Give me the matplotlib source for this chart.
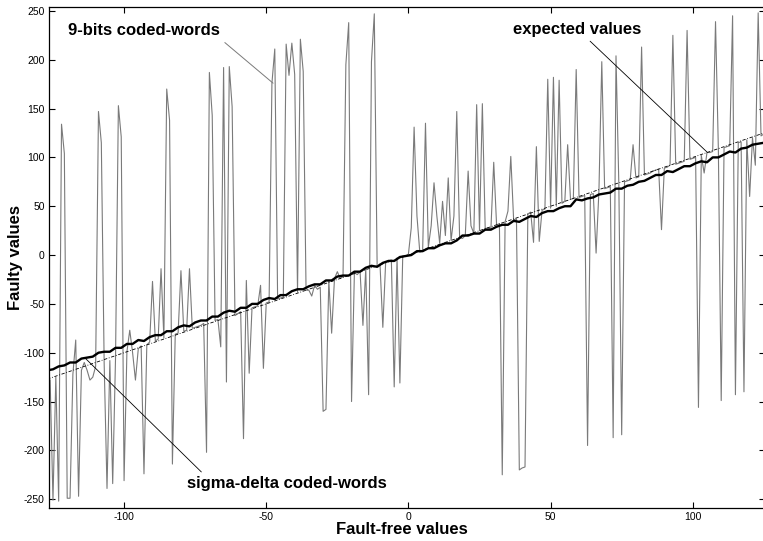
import numpy as np
import matplotlib
matplotlib.use("Agg")
import matplotlib.pyplot as plt

plt.rcParams['font.family'] = ['Liberation Sans', 'DejaVu Sans']
plt.rcParams['axes.unicode_minus'] = False

# fault-free input codes
fault_free = np.arange(-127, 126)

# faulty outputs read with plain 9-bit coded words
nine_bits = [
    -125, -128, -251, -125, -252, 134, 104, -249, -249, -122,
    -87, -247, -118, -110, -118, -128, -125, -114, 147, 115,
    -111, -239, -108, -234, -105, 153, 121, -231, -99, -77,
    -100, -128, -96, -93, -224, -92, -89, -27, -88, -86,
    -14, -85, 170, 138, -214, -81, -80, -16, -78, -77,
    -14, -75, -74, -73, -72, -70, -202, 187, 143, -67,
    -66, -94, 192, -130, 193, 152, -62, -60, -58, -188,
    -26, -121, -54, -53, -52, -31, -116, -49, -48, 176,
    211, -45, -44, -43, 216, 184, 217, 185, -38, 221,
    188, -36, -36, -42, -31, -35, -33, -160, -158, -26,
    -80, -24, -17, -24, -22, 195, 238, -150, -18, -20,
    -17, -72, -14, -143, 198, 247, -12, -9, -74, -7,
    -6, -5, -135, -3, -131, -1, -1, 1, 28, 131,
    40, 3, 4, 135, 8, 30, 74, 40, 12, 55,
    20, 79, 15, 40, 147, 18, 17, 20, 86, 30,
    22, 154, 25, 155, 27, 28, 26, 95, 31, 32,
    -225, 34, 45, 101, 36, 37, -220, -218, -217, 42,
    44, 13, 111, 14, 46, 47, 180, 48, 182, 50,
    179, 53, 55, 113, 57, 58, 190, 59, 60, 61,
    -195, 62, 63, 2, 66, 198, 68, 69, 70, -187,
    204, 72, -184, 75, 76, 77, 113, 79, 80, 213,
    82, 83, 84, 86, 87, 88, 26, 89, 90, 92,
    225, 93, 94, 95, 96, 230, 98, 99, 100, -156,
    102, 84, 105, 105, 106, 239, 108, -149, 110, 111,
    112, 245, -143, 115, 116, -140, 118, 60, 120, 92,
    248, 122, 124,
]

# faulty outputs read with sigma-delta coded words (every second code)
sd_codes = np.arange(-127, 126, 2)
sigma_delta = [
    -118, -117, -114, -113, -110, -110, -106, -105, -104, -100,
    -99, -99, -95, -95, -91, -91, -87, -88, -84, -82,
    -82, -78, -78, -74, -72, -73, -69, -67, -67, -63,
    -63, -59, -57, -58, -54, -54, -50, -50, -46, -44,
    -45, -41, -41, -37, -35, -35, -32, -30, -30, -26,
    -26, -22, -21, -21, -17, -17, -13, -11, -12, -8,
    -6, -6, -2, -1, 0, 4, 4, 7, 7, 10,
    12, 12, 15, 20, 20, 22, 22, 26, 26, 29,
    31, 31, 35, 34, 37, 40, 39, 43, 45, 45,
    48, 50, 50, 57, 56, 58, 59, 62, 63, 64,
    68, 68, 71, 72, 75, 76, 79, 82, 82, 86,
    85, 88, 91, 91, 94, 96, 95, 100, 100, 103,
    106, 105, 109, 110, 113, 114, 115,
]

fig = plt.figure(figsize=(7.63, 5.41), dpi=100)
ax = fig.add_axes([49 / 763, 1 - 508 / 541, 716 / 763, 501 / 541])

ax.plot(fault_free, nine_bits, color='#7a7a7a', lw=0.8)
ax.plot(fault_free, fault_free, color='black', lw=0.6, ls=(0, (4, 2, 1, 2)))
ax.plot(sd_codes, sigma_delta, color='black', lw=1.7)

ax.set_xlim(-126.4, 125.4)
ax.set_ylim(-259, 254)
ax.set_xticks([-100, -50, 0, 50, 100])
ax.set_yticks(np.arange(-250, 251, 50))
ax.tick_params(direction='in', length=4, width=0.8, labelsize=7.5,
               top=True, right=True, pad=3)
for sp in ax.spines.values():
    sp.set_linewidth(0.9)

ax.set_xlabel('Fault-free values', fontsize=12, fontweight='bold')
ax.set_ylabel('Faulty values', fontsize=12, fontweight='bold', labelpad=1)
ax.xaxis.set_label_coords(0.493, -0.027, transform=ax.transAxes)

bold = dict(fontsize=12, fontweight='bold', va='center', ha='left')
ax.annotate('9-bits coded-words', xy=(-47.6, 176), xytext=(-119.7, 229.5),
            arrowprops=dict(arrowstyle='-', color='#7a7a7a', lw=0.7,
                            relpos=(1.0, 0.0), shrinkA=2, shrinkB=0), **bold)
ax.annotate('expected values', xy=(105, 105.5), xytext=(36.8, 230.5),
            arrowprops=dict(arrowstyle='-', color='black', lw=0.6,
                            relpos=(0.57, 0.0), shrinkA=1, shrinkB=0), **bold)
ax.annotate('sigma-delta coded-words', xy=(-113.7, -105.5), xytext=(-77.8, -233.6),
            arrowprops=dict(arrowstyle='-', color='black', lw=0.6,
                            relpos=(0.09, 1.0), shrinkA=1, shrinkB=0), **bold)

fig.savefig('out.png', dpi=100)
